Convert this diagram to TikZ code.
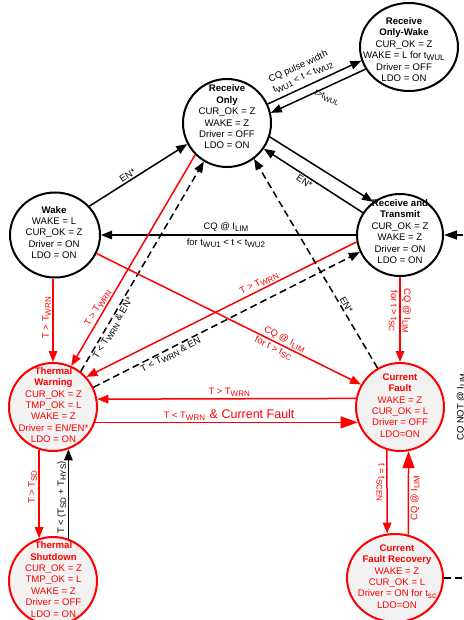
\documentclass[tikz,border=0pt]{standalone}
\usepackage{fontspec}
\setmainfont{Liberation Sans}
\usepackage{graphicx}
\usetikzlibrary{arrows.meta,shapes.geometric}
\definecolor{rd}{RGB}{255,0,0}
\definecolor{fillg}{RGB}{242,242,242}
\newcommand\lo[1]{\raisebox{-0.4ex}{\scalebox{0.85}{#1}}}
\newcommand\bigfs{\fontsize{12.5}{14}\selectfont}
\begin{document}
\begin{tikzpicture}[x=1pt,y=-1pt,
  st/.style={ellipse, draw=black, line width=2pt, fill=white, minimum width=88pt, minimum height=88pt, inner sep=0pt},
  rst/.style={st, draw=rd, fill=fillg},
  txt/.style={align=center, font=\fontsize{9.6}{11.4}\selectfont, inner sep=0pt},
  rtxt/.style={txt, text=rd},
  ln/.style={line width=1.5pt, -{Triangle[length=11pt,width=8.5pt]}},
  bln/.style={line width=1.5pt, -{Triangle[length=17pt,width=12pt]}},
  rln/.style={ln, draw=rd},
  rbln/.style={bln, draw=rd},
  dln/.style={ln, dash pattern=on 7pt off 4pt},
  lab/.style={font=\fontsize{9.4}{11}\selectfont, inner sep=1.5pt},
  rlab/.style={lab, text=rd}
]
\fill[white] (0,0) rectangle (463,620);
\useasboundingbox (0,0) rectangle (463,620);

% ---- states ----
\node[st] (ro) at (227,123) {};
\node[st, minimum width=98pt] (row) at (409,47) {};
\node[st, minimum width=90pt, minimum height=85pt] (wk) at (55,235) {};
\node[st, minimum width=86pt, minimum height=82pt] (rt) at (400,235) {};
\node[rst] (tw) at (53,407) {};
\node[rst] (cf) at (400,407) {};
\node[rst] (ts) at (53,581) {};
\node[rst, minimum width=96pt] (cfr) at (395,578) {};

\node[txt] (rot) at (227,117) {\textbf{Receive}\\\textbf{Only}\\CUR\_OK = Z\\WAKE = Z\\Driver = OFF\\LDO = ON};
\node[txt] (rowt) at (404,49.5) {\textbf{Receive}\\\textbf{Only-Wake}\\CUR\_OK = Z\\WAKE = L for t\lo{WUL}\\Driver = OFF\\LDO = ON};
\node[txt] (wkt) at (54,232.5) {\textbf{Wake}\\WAKE = L\\CUR\_OK = Z\\Driver = ON\\LDO = ON};
\node[txt] (rtt) at (400,231.5) {\textbf{Receive and}\\\textbf{Transmit}\\CUR\_OK = Z\\WAKE = Z\\Driver = ON\\LDO = ON};
\node[rtxt] (twt) at (53.5,405) {\textbf{Thermal}\\\textbf{Warning}\\CUR\_OK = Z\\TMP\_OK = L\\WAKE = Z\\Driver = EN/EN*\\LDO = ON};
\node[rtxt] (cft) at (400,405.5) {\textbf{Current}\\\textbf{Fault}\\WAKE = Z\\CUR\_OK = L\\Driver = OFF\\LDO=ON};
\node[rtxt] (tst) at (53.5,579.5) {\textbf{Thermal}\\\textbf{Shutdown}\\CUR\_OK = Z\\TMP\_OK = L\\WAKE = Z\\Driver = OFF\\LDO = ON};
\node[rtxt] (cfrt) at (397,576.5) {\textbf{Current}\\\textbf{Fault Recovery}\\WAKE = Z\\CUR\_OK = L\\Driver = ON for t\lo{sc}\\LDO=ON};

% ---- connectors ----
\draw[ln] (ro.25) -- node[lab, sloped, above=3pt, pos=0.42, align=center] {CQ pulse width\\t\lo{WU1} < t < t\lo{WU2}} (row.196);
\draw[ln] (row.207) -- (ro.13);
\node[lab, rotate=-22, font=\fontsize{8.5}{10}\selectfont] (lwul) at (327,98) {t>t\lo{WUL}};

\draw[ln] (wk.40) -- node[lab, sloped, above, pos=0.42] {EN*} (ro.208);

\draw[ln] (ro.-18) -- (rt.129);
\draw[ln] (rt.149) -- node[lab, sloped, below, pos=0.56] {EN*} (ro.-35);

\draw[ln] (rt.180) -- node[lab, above=1pt, pos=0.51] {CQ @ I\lo{LIM}} node[lab, below=1pt, pos=0.51] {for t\lo{WU1} < t < t\lo{WU2}} (wk.0);

\coordinate (inR) at (463,235);
\draw[line width=1.5pt, -{Triangle[length=13pt,width=9pt]}] (inR) -- (rt.0);

\draw[rln] (wk.south -| tw.north) -- node[rlab, rotate=90, anchor=south, pos=0.47] {T > T\lo{WRN}} (tw.north);

\draw[rln] (ro.225) -- node[rlab, sloped, above, pos=0.74] {T > T\lo{WRN}} (tw.66);

\draw[dln] (tw.52) -- node[lab, sloped, below, pos=0.22] {T < T\lo{WRN} \& EN*} (ro.239.5);

\draw[rln] (rt.189.5) -- node[rlab, sloped, above, pos=0.35] {T > T\lo{WRN}} (tw.42.6);

\draw[dln] (tw.26.6) -- node[lab, sloped, below, pos=0.28] {T < T\lo{WRN} \& EN} (rt.203);

\draw[rln] (wk.-24) -- node[rlab, sloped, above, pos=0.70] {CQ @ I\lo{LIM}} node[rlab, sloped, below, pos=0.68] {for t > t\lo{SC}} (cf.150);

\draw[rln] (rt.south) -- node[rlab, rotate=-90, anchor=south, pos=0.4] {CQ @ I\lo{LIM}} node[rlab, rotate=-90, anchor=north, pos=0.4] {for t > t\lo{SC}} (cf.north);

\draw[dln] (cf.120) -- node[lab, sloped, above, pos=0.29] {EN*} (ro.-53);

\draw[rln] (cf.169.5) -- node[rlab, above, pos=0.49] {T > T\lo{WRN}} (tw.10.5);

\draw[rbln] (tw.-20) -- node[rlab, above, pos=0.51] {T < T\lo{WRN} {\bigfs\,\& Current Fault}} (cf.200);

\draw[rln] (tw.-108.5) -- node[rlab, rotate=90, anchor=south, pos=0.42] {T > T\lo{SD}} (ts.108.5);

\draw[ln] (ts.70) -- node[lab, rotate=90, anchor=south, pos=0.46] {T < (T\lo{SD} + T\lo{HYS})} (tw.-70);

\draw[rln] (cf.-107.2) -- node[rlab, rotate=-90, anchor=north, pos=0.39] {t = t\lo{SCEN}} (cfr.100.4);

\draw[rbln] (cfr.73) -- node[rlab, rotate=90, anchor=north, pos=0.44] {CQ @ I\lo{LIM}} (cf.-79.5);

\coordinate (outR) at (463,578);
\draw[line width=1.5pt, dash pattern=on 7pt off 4pt] (cfr.0) -- (outR);

\node[lab, rotate=90, anchor=north] (cqnot) at (455,407) {CQ NOT @ I\lo{LIM}};
\end{tikzpicture}
\end{document}
